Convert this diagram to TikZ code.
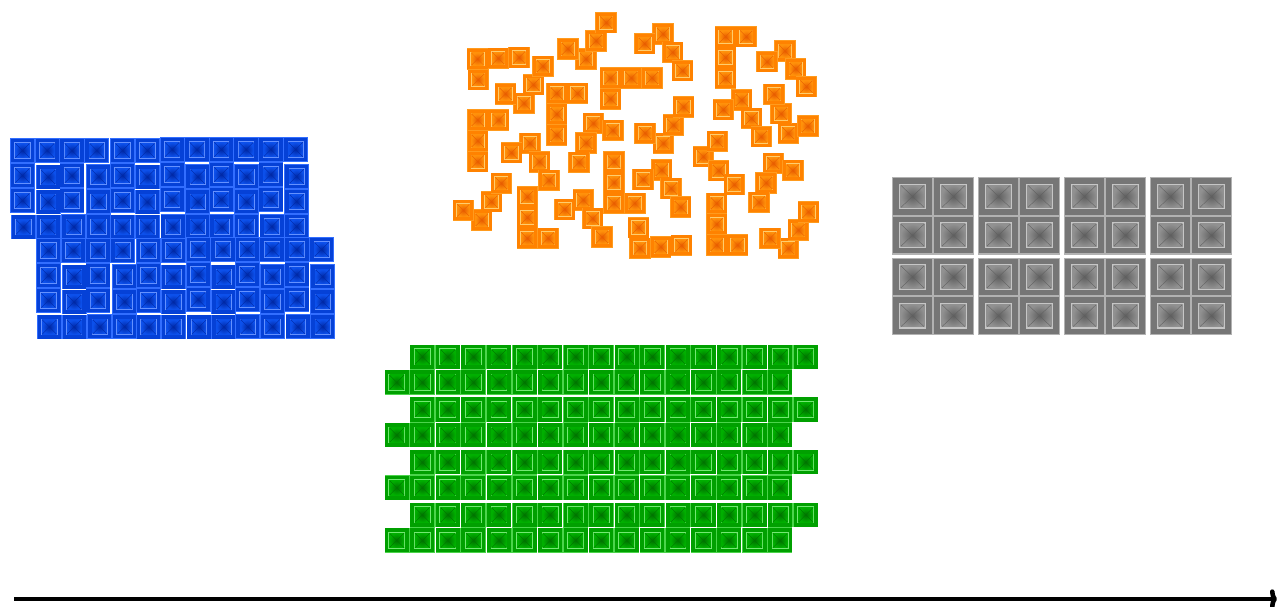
\documentclass[tikz,border=0pt]{standalone}
\usetikzlibrary{arrows.meta}

% tile colours: rim, frame, inner outline, inner face, inner centre
\definecolor{blrim}{RGB}{50,110,255}
\definecolor{blbody}{RGB}{5,65,215}
\definecolor{blhi}{RGB}{100,145,255}
\definecolor{blmid}{RGB}{12,80,235}
\definecolor{bldark}{RGB}{0,40,165}
\definecolor{orrim}{RGB}{255,155,30}
\definecolor{orbody}{RGB}{255,130,0}
\definecolor{orhi}{RGB}{255,205,110}
\definecolor{ormid}{RGB}{255,145,10}
\definecolor{ordark}{RGB}{232,92,0}
\definecolor{grrim}{RGB}{75,212,75}
\definecolor{grbody}{RGB}{0,160,0}
\definecolor{grhi}{RGB}{115,232,115}
\definecolor{grmid}{RGB}{0,175,0}
\definecolor{grdark}{RGB}{0,115,0}
\definecolor{gyrim}{RGB}{178,178,178}
\definecolor{gybody}{RGB}{118,118,118}
\definecolor{gyhi}{RGB}{198,198,198}
\definecolor{gymid}{RGB}{145,145,145}
\definecolor{gydark}{RGB}{95,95,95}

\begin{document}
\begin{tikzpicture}[
  x=0.02cm, y=-0.02cm,
  pics/tcell/.style={code={
    \fill[#1rim] (-.5,-.5) rectangle (.5,.5);
    \fill[#1body] (-.47,-.47) rectangle (.47,.47);
    \fill[#1hi] (-.33,-.33) rectangle (.33,.33);
    \shade[inner color=#1dark, outer color=#1mid] (-.29,-.29) rectangle (.29,.29);
    \draw[#1dark, line width=0.2pt] (-.29,-.29) -- (.29,.29) (-.29,.29) -- (.29,-.29);
  }},
  gapline/.style={draw=white, line width=0.6pt},
  timeline/.style={line width=2.6pt, -{To[length=4pt,width=11pt]}}
]
\useasboundingbox (0,0) rectangle (1278,606);

% blue: two bands of interlocking L pairs, slightly out of place
\foreach \ox/\oy/\jx/\jy/\lx/\ly in {10/138/0/0/1/1.5, 59.6/138/0/0/1.8/1.2,
    109.2/138/1/0/1/1.5, 158.8/138/1/-1/1.8/1.2, 208.4/138/0.5/-1/1/1.2,
    258/138/0.5/-1/1.5/1, 36/238/0/0/1/1.5, 85.6/238/0/0/1.8/1.2,
    135.2/238/1/0/1/1.5, 184.8/238/1/-1/1.8/1.5, 234.4/238/0.5/-1/1/1.2,
    284/238/0.5/-1/1.5/1.2}{
  \foreach \col/\row in {0/0,1/0,0/1,0/2}
    \pic[scale=24.8] at ({\ox+\jx+(\col+.5)*24.8},{\oy+\jy+(\row+.5)*25}) {tcell=bl};
  \foreach \col/\row in {1/1,1/2,1/3,0/3}
    \pic[scale=24.8] at ({\ox+\lx+(\col+.5)*24.8},{\oy+\ly+(\row+.5)*25}) {tcell=bl};
}

% orange: loose L pieces (corner cell, angle, side of the short arm)
\foreach \cx/\cy/\ang/\d in {477.5/59/2/1, 524/103.3/63/-1, 586/59/61/-1,
    610.5/78/0/1, 663/34/-62/1, 725.5/36.7/-90/-1, 785/51/-59/1,
    556.7/93.3/-90/-1, 477.7/120/-90/-1, 530/143.3/-63/1, 593.3/123.3/-110/-1,
    663.3/143.3/61/-1, 741.7/100/-62/1, 788.3/133.3/110/1, 481.7/220/62/-1,
    527.3/238.3/90/1, 583.3/200/-63/1, 614/203.3/90/1, 661.7/170/-63/1,
    703.3/156.7/-42/-1, 773.3/163.3/-110/-1, 640/248.3/4/-1, 716.7/245/90/1,
    788.3/248.3/61/-1}{
  \begin{scope}[shift={(\cx,\cy)}, rotate=\ang]
    \foreach \i/\j in {0/0,1/0,2/0,0/\d}
      \pic[scale=21.4] at (\i*20.8,\j*20.8) {tcell=or};
  \end{scope}
}

% green: rows of S pieces
\foreach \prow in {0,...,3}
  \foreach \k in {0,...,7}{
    \pgfmathsetmacro\ox{384+2*\k*25.56}
    \pgfmathsetmacro\oy{344+\prow*52.7}
    \foreach \col/\row in {1/0,2/0,0/1,1/1}
      \pic[scale=25.56] at ({\ox+(\col+.5)*25.56},{\oy+(\row+.5)*25.56}) {tcell=gr};
    \draw[gapline] (\ox+25.56,\oy) -- (\ox+76.68,\oy) -- (\ox+76.68,\oy+25.56)
      -- (\ox+51.12,\oy+25.56) -- (\ox+51.12,\oy+51.12) -- (\ox,\oy+51.12)
      -- (\ox,\oy+25.56) -- (\ox+25.56,\oy+25.56) -- cycle;
  }

% grey: square 2x2 blocks
\foreach \bx in {892,978,1064,1150}
  \foreach \by in {177,257.5}
    \foreach \i/\j in {0/0,1/0,0/1,1/1}
      \pic[xscale=41,yscale=38.8] at ({\bx+20.5+\i*41},{\by+19.4+\j*38.8}) {tcell=gy};

% time axis
\coordinate (tstart) at (14,599);
\coordinate (tend) at (1277,599);
\draw[timeline] (tstart) -- (tend);
\end{tikzpicture}
\end{document}
